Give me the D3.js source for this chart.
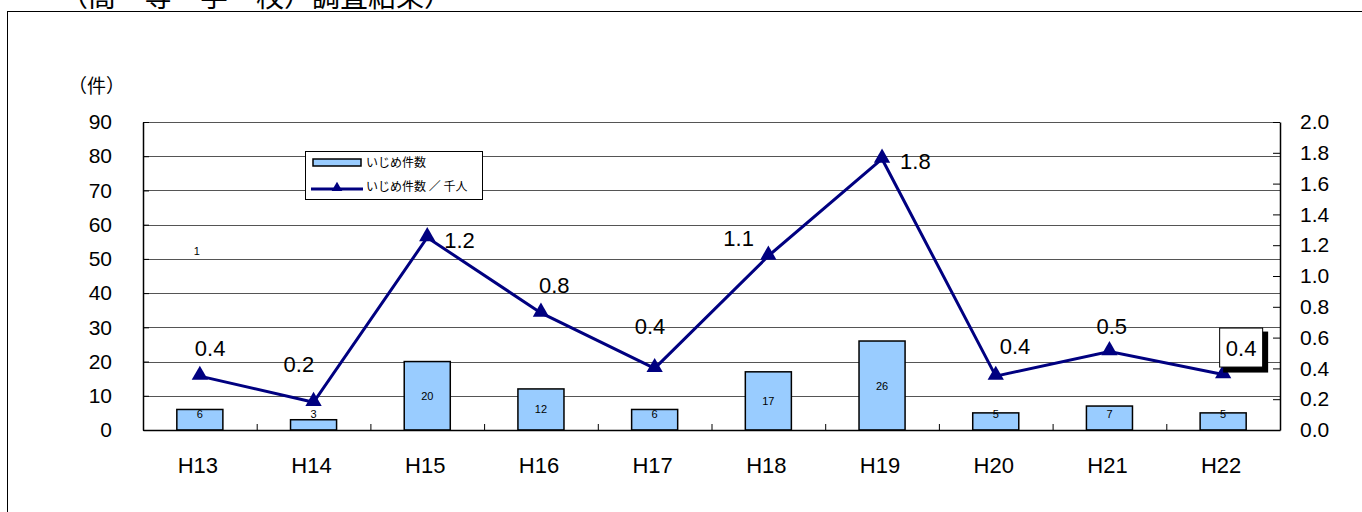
<!DOCTYPE html>
<html>
<head>
<meta charset="utf-8">
<script src="https://cdn.jsdelivr.net/npm/d3@7"></script>
<style>
  body { margin: 0; background: #fff; }
  text { font-family: "Liberation Sans", Arial, sans-serif; }
  .jp { font-family: "Noto Sans CJK JP", sans-serif; }
</style>
</head>
<body>
<div id="chart"></div>
<script>
// data
var years = ['H13','H14','H15','H16','H17','H18','H19','H20','H21','H22'];
var cases = [6, 3, 20, 12, 6, 17, 26, 5, 7, 5];
var perThousand = [0.35, 0.18, 1.25, 0.76, 0.40, 1.13, 1.76, 0.35, 0.51, 0.36];
var perThousandLabels = ['0.4','0.2','1.2','0.8','0.4','1.1','1.8','0.4','0.5','0.4'];
var leftTicks = [0, 10, 20, 30, 40, 50, 60, 70, 80, 90];
var rightTicks = [0, 0.2, 0.4, 0.6, 0.8, 1.0, 1.2, 1.4, 1.6, 1.8, 2.0];
var seriesNames = ['いじめ件数', 'いじめ件数 ／ 千人'];

// label offsets for the line labels (dx, dy from the marker)
var labelOffsets = [[-5,-20],[-30,-30],[17,10],[-2,-20],[-20,-34],[-45,-10],[18,10],[4,-22],[-13,-17],[0,0]];

var W = 1362, H = 512;
var pLeft = 143, pRight = 1280, pTop = 122, pBottom = 430;

var svg = d3.select('#chart').append('svg')
    .attr('width', W).attr('height', H);

// outer frame (extends past the window)
svg.append('rect')
   .attr('x', 7.5).attr('y', 11.5)
   .attr('width', W).attr('height', H)
   .style('fill', 'none').style('stroke', '#000').style('stroke-width', 1);

// cut-off title
svg.append('text')
   .attr('class', 'jp')
   .attr('x', 60).attr('y', 7)
   .style('font-size', '28px')
   .text('（高　等　学　校）調査結果）');

var x = d3.scaleBand().domain(years).range([pLeft, pRight])
          .paddingInner(0.595).paddingOuter(0.2975);
var yL = d3.scaleLinear().domain([0, 90]).range([pBottom, pTop]);
var yR = d3.scaleLinear().domain([0, 2.0]).range([pBottom, pTop]);
var cx = function(d, i) { return x(years[i]) + x.bandwidth() / 2; };

// gridlines
svg.append('g').selectAll('line')
   .data(leftTicks.filter(d => d > 0 && d < 90))
   .join('line')
   .attr('x1', pLeft).attr('x2', pRight)
   .attr('y1', d => Math.round(yL(d)) + 0.5).attr('y2', d => Math.round(yL(d)) + 0.5)
   .style('stroke', '#555').style('stroke-width', 1);

// plot border top
svg.append('line').attr('x1', pLeft).attr('x2', pRight)
   .attr('y1', pTop + 0.5).attr('y2', pTop + 0.5)
   .style('stroke', '#555');

// bars
svg.append('g').selectAll('rect')
   .data(cases)
   .join('rect')
   .attr('x', (d, i) => x(years[i]))
   .attr('y', d => yL(d))
   .attr('width', x.bandwidth())
   .attr('height', d => pBottom - yL(d))
   .style('fill', '#99CCFF')
   .style('stroke', '#000')
   .style('stroke-width', 1.5);

// bar labels
svg.append('g').selectAll('text')
   .data(cases)
   .join('text')
   .attr('x', cx)
   .attr('y', d => Math.min((yL(d) + pBottom) / 2, pBottom - 16) + 4)
   .attr('text-anchor', 'middle')
   .style('font-size', '11px')
   .text(d => d);

// stray label
svg.append('text').attr('x', x('H13') + x.bandwidth() / 2 - 3).attr('y', 255)
   .attr('text-anchor', 'middle').style('font-size', '11px').text('1');

// axes
var axL = svg.append('g').attr('transform', 'translate(' + pLeft + ',0)')
   .call(d3.axisLeft(yL).tickValues(leftTicks).tickSizeInner(-6).tickSizeOuter(0).tickPadding(31));
var axR = svg.append('g').attr('transform', 'translate(' + pRight + ',0)')
   .call(d3.axisRight(yR).tickValues(rightTicks).tickSizeInner(-7).tickSizeOuter(0).tickPadding(20)
         .tickFormat(d3.format('.1f')));
var xb = d3.scaleLinear().domain([0, 10]).range([pLeft, pRight]);
var axB = svg.append('g').attr('transform', 'translate(0,' + pBottom + ')')
   .call(d3.axisBottom(xb).tickValues(d3.range(1, 10)).tickSizeInner(-6).tickSizeOuter(0).tickFormat(''));
[axL, axR, axB].forEach(function(a) {
    a.selectAll('path').style('stroke', '#000').style('stroke-width', 1.5);
    a.selectAll('line').style('stroke', '#000');
    a.selectAll('text').style('font-size', '21px').style('font-family', '"Liberation Sans", Arial, sans-serif').style('fill', '#000');
});

// x labels
svg.append('g').selectAll('text')
   .data(years)
   .join('text')
   .attr('x', (d, i) => cx(d, i) - 2)
   .attr('y', 473)
   .attr('text-anchor', 'middle')
   .style('font-size', '22px')
   .text(d => d);

// unit label
svg.append('text').attr('class', 'jp').attr('x', 68).attr('y', 93)
   .style('font-size', '19px').text('（件）');

// line series
var line = d3.line().x((d, i) => cx(d, i)).y(d => yR(d));
svg.append('path')
   .datum(perThousand)
   .attr('d', line)
   .style('fill', 'none')
   .style('stroke', '#000080')
   .style('stroke-width', 3);

var tri = d3.symbol().type(d3.symbolTriangle).size(115);
svg.append('g').selectAll('path')
   .data(perThousand)
   .join('path')
   .attr('d', tri)
   .attr('transform', (d, i) => 'translate(' + cx(d, i) + ',' + (yR(d) - 1) + ')')
   .style('fill', '#000080');

// line labels
svg.append('g').selectAll('text')
   .data(perThousandLabels.slice(0, 9))
   .join('text')
   .attr('x', (d, i) => cx(d, i) + labelOffsets[i][0])
   .attr('y', (d, i) => yR(perThousand[i]) + labelOffsets[i][1])
   .style('font-size', '22px')
   .text(d => d);

// boxed label on last point
var lx = cx(0, 9), ly = yR(perThousand[9]);
var box = svg.append('g').attr('transform', 'translate(' + (lx - 4) + ',' + (ly - 47) + ')');
box.append('rect').attr('x', 4).attr('y', 4).attr('width', 45).attr('height', 41).style('fill', '#000');
box.append('rect').attr('x', 0.5).attr('y', 0.5).attr('width', 43).attr('height', 39)
   .style('fill', '#fff').style('stroke', '#000');
box.append('text').attr('x', 22).attr('y', 28).attr('text-anchor', 'middle')
   .style('font-size', '22px').text(perThousandLabels[9]);

// legend
var lg = svg.append('g').attr('transform', 'translate(305,151)');
lg.append('rect').attr('x', 0.5).attr('y', 0.5).attr('width', 177).attr('height', 48)
  .style('fill', '#fff').style('stroke', '#000');
lg.append('rect').attr('x', 8).attr('y', 8).attr('width', 48).attr('height', 7)
  .style('fill', '#99CCFF').style('stroke', '#000').style('stroke-width', 1.5);
lg.append('line').attr('x1', 6).attr('x2', 58).attr('y1', 38).attr('y2', 38)
  .style('stroke', '#000080').style('stroke-width', 3);
lg.append('path').attr('d', d3.symbol().type(d3.symbolTriangle).size(50))
  .attr('transform', 'translate(32,37)').style('fill', '#000080');
lg.selectAll('text.name')
  .data(seriesNames)
  .join('text')
  .attr('class', 'name jp')
  .attr('x', 61)
  .attr('y', (d, i) => 16 + i * 24)
  .style('font-size', '12px')
  .text(d => d);
</script>
</body>
</html>
